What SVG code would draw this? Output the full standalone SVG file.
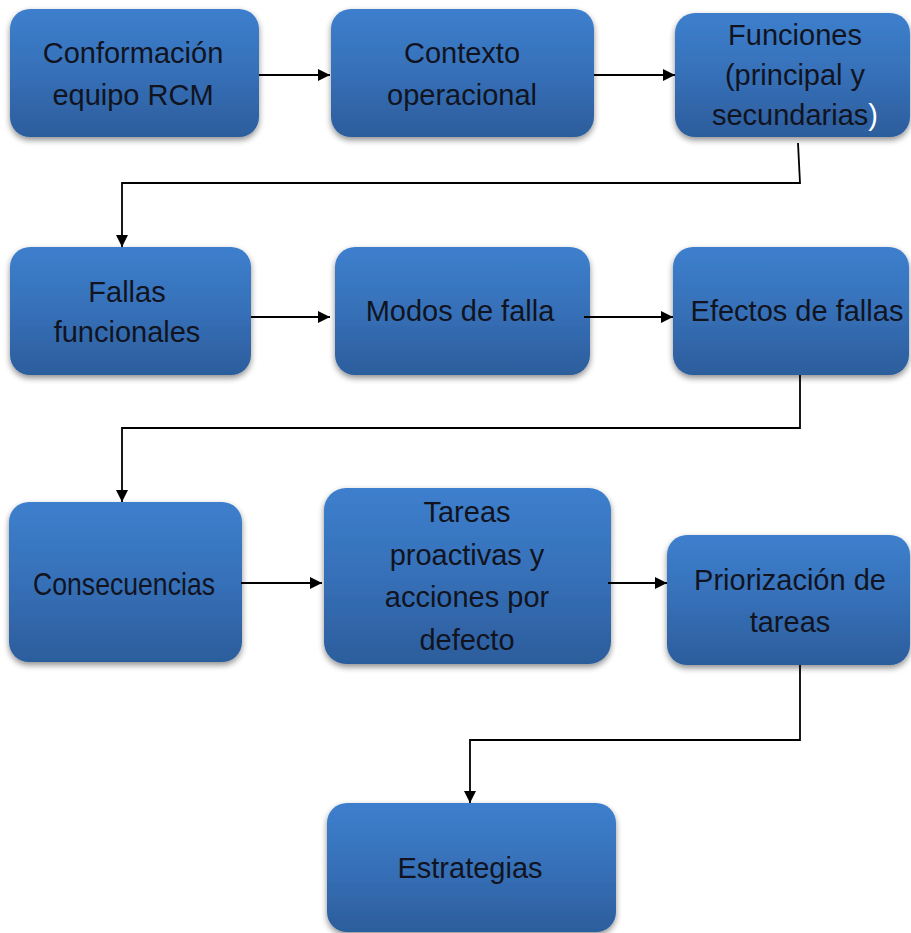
<svg xmlns="http://www.w3.org/2000/svg" width="911" height="933" viewBox="0 0 911 933">
<defs>
<linearGradient id="g" x1="0" y1="0" x2="0" y2="1">
<stop offset="0" stop-color="#3d7fcd"/>
<stop offset="0.5" stop-color="#3670b8"/>
<stop offset="1" stop-color="#2c5d9c"/>
</linearGradient>
<filter id="sh" x="-10%" y="-10%" width="120%" height="130%">
<feGaussianBlur in="SourceAlpha" stdDeviation="3"/>
<feOffset dx="0" dy="3" result="b"/>
<feComponentTransfer><feFuncA type="linear" slope="0.45"/></feComponentTransfer>
<feMerge><feMergeNode/><feMergeNode in="SourceGraphic"/></feMerge>
</filter>
<marker id="ah" viewBox="0 0 10 10" refX="10" refY="5" markerWidth="14" markerHeight="12" markerUnits="userSpaceOnUse" orient="auto">
<path d="M0,0 L10,5 L0,10 z" fill="#000"/>
</marker>
</defs>
<style>
.box{fill:url(#g);filter:url(#sh);}
text{font-family:"Liberation Sans","Open Sans",sans-serif;font-size:29px;fill:#11141f;text-anchor:middle;}
.c{fill:none;stroke:#000;stroke-width:1.8;marker-end:url(#ah);}
</style>
<rect width="911" height="933" fill="#fff"/>
<g id="n1"><rect class="box" x="10" y="9" width="249" height="128" rx="20"/><text x="133" y="63">Conformación</text><text x="133" y="105">equipo RCM</text></g>
<g id="n2"><rect class="box" x="331" y="9" width="263" height="128" rx="20"/><text x="462" y="63">Contexto</text><text x="462" y="105">operacional</text></g>
<g id="n3"><rect class="box" x="675" y="13" width="235" height="124" rx="20"/><text x="795" y="45">Funciones</text><text x="795" y="85">(principal y</text><text x="795" y="125">secundarias<tspan style="fill:#fff">)</tspan></text></g>
<g id="n4"><rect class="box" x="10" y="247" width="241" height="128" rx="20"/><text x="127" y="302">Fallas</text><text x="127" y="342">funcionales</text></g>
<g id="n5"><rect class="box" x="335" y="247" width="255" height="128" rx="20"/><text x="460" y="321">Modos de falla</text></g>
<g id="n6"><rect class="box" x="673" y="247" width="236" height="128" rx="20"/><text x="797" y="321">Efectos de fallas</text></g>
<g id="n7"><rect class="box" x="9" y="502" width="233" height="160" rx="20"/><text x="124" y="595" style="font-size:32px" textLength="182" lengthAdjust="spacingAndGlyphs">Consecuencias</text></g>
<g id="n8"><rect class="box" x="324" y="488" width="287" height="176" rx="22"/><text x="467" y="522">Tareas</text><text x="467" y="565">proactivas y</text><text x="467" y="607">acciones por</text><text x="467" y="650">defecto</text></g>
<g id="n9"><rect class="box" x="667" y="535" width="243" height="130" rx="20"/><text x="790" y="590">Priorización de</text><text x="790" y="632">tareas</text></g>
<g id="n10"><rect class="box" x="327" y="803" width="289" height="129" rx="20"/><text x="470" y="878">Estrategias</text></g>
<g id="connectors">
<path class="c" d="M259,75 L330,75"/>
<path class="c" d="M594,75 L675,75"/>
<path class="c" d="M798,143 L800,183 L122,183 L122,247"/>
<path class="c" d="M251,317 L330,317"/>
<path class="c" d="M584,317 L673,317"/>
<path class="c" d="M800,375 L800,428 L122,428 L122,502"/>
<path class="c" d="M241,583 L322,583"/>
<path class="c" d="M608,583 L667,583"/>
<path class="c" d="M800,665 L800,740 L470,740 L470,803"/>
</g>
</svg>
